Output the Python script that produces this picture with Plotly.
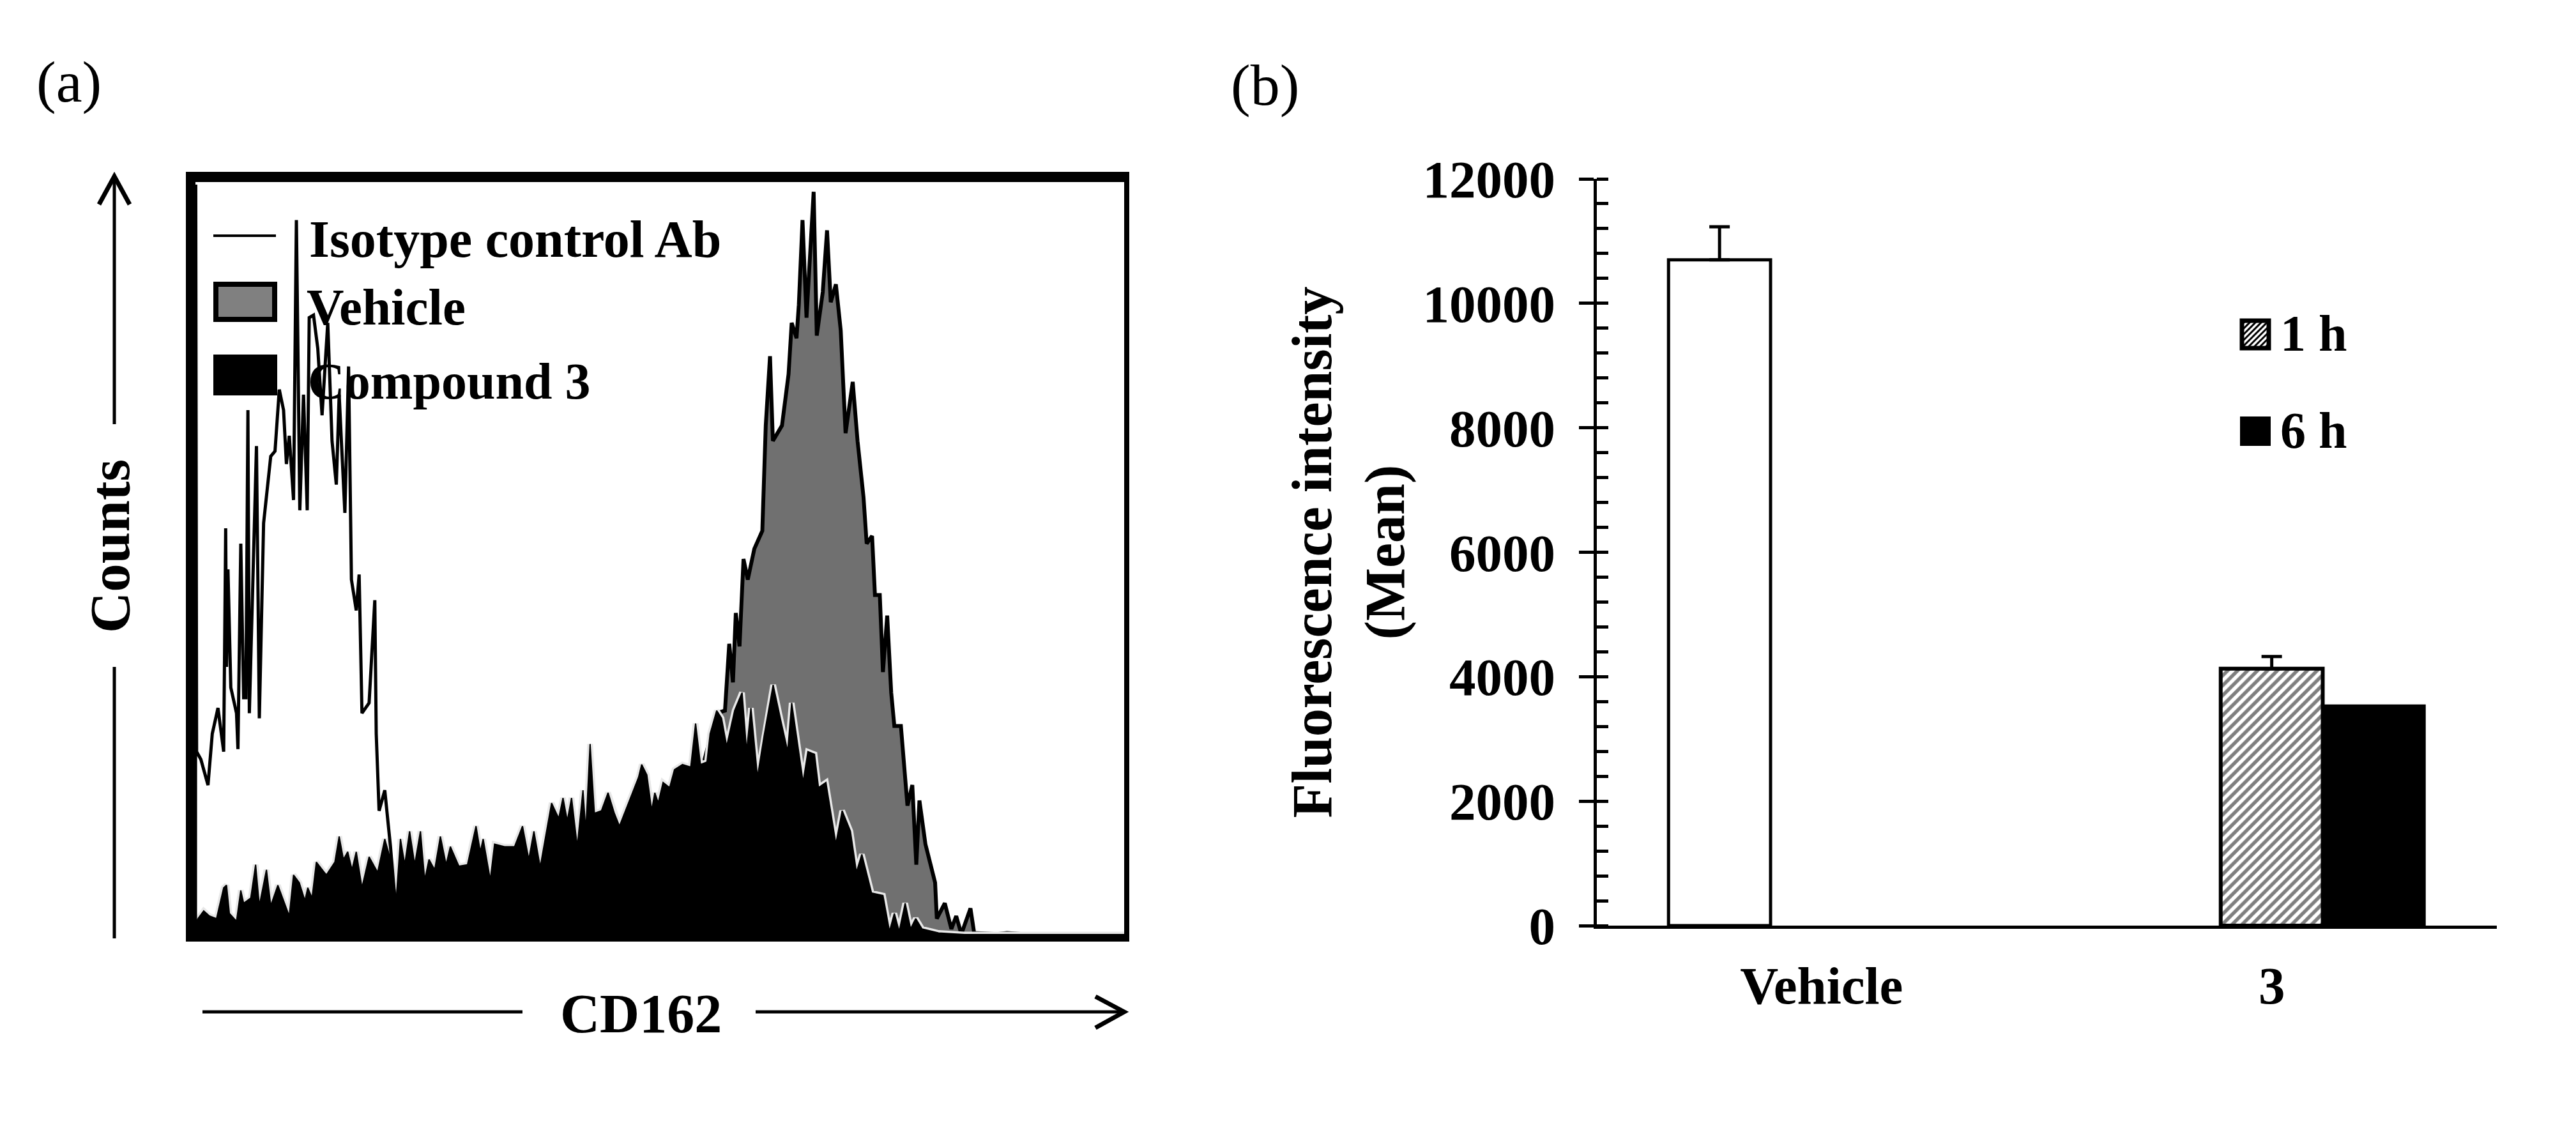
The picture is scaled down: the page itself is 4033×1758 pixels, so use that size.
import plotly.graph_objects as go

# ==========================================================
# Panel (a) data - histogram outlines, channel vs counts
# ==========================================================
isotype_x = [81, 82, 85, 100, 125, 140, 160, 180, 187, 190, 195, 205, 225, 230, 240, 250, 258, 265, 270, 285,
             295, 305, 320, 345, 360, 375, 390, 400, 410, 425, 435, 447, 460, 473, 480, 495, 510, 525, 545, 560,
             575, 585, 605, 618, 628, 645, 655, 665, 690, 710, 715, 725, 745, 765, 780, 790, 1200, 1500, 1700, 2000]
isotype_y = [0, 1460, 356, 341, 291, 391, 441, 356, 791, 521, 711, 481, 431, 361, 761, 461, 461, 1021, 431, 731,
             951, 421, 801, 931, 941, 1061, 1021, 916, 971, 846, 1391, 826, 1051, 826, 1201, 1206, 1141, 1011, 1191, 961,
             876, 1051, 821, 1106, 691, 631, 701, 431, 451, 651, 391, 241, 281, 171, 71, 40, 30, 15, 5, 0]

vehicle_x = [81, 1000, 1500, 1800, 1909, 1938, 1953, 1966, 1976, 1989, 2003, 2018, 2041, 2069, 2081, 2096, 2106, 2138,
             2161, 2172, 2189, 2197, 2210, 2224, 2249, 2260, 2281, 2296, 2309, 2327, 2344, 2361, 2386, 2403, 2424,
             2435, 2454, 2464, 2481, 2492, 2507, 2521, 2532, 2555, 2578, 2595, 2609, 2620, 2641, 2675, 2681, 2709,
             2732, 2749, 2767, 2799, 2812, 2892, 2927, 3007, 3235, 3338]
vehicle_y = [0, 50, 100, 200, 431, 436, 566, 491, 626, 561, 731, 691, 751, 786, 991, 1126, 961, 991,
             1091, 1191, 1161, 1226, 1391, 1201, 1446, 1166, 1251, 1371, 1231, 1266, 1176, 976, 1076, 961, 851,
             761, 776, 661, 661, 511, 621, 471, 406, 406, 251, 291, 136, 261, 176, 101, 31, 61,
             11, 36, 1, 51, 3, 1, 3, 0, 1, 1]

compound_x = [81, 90, 110, 130, 155, 180, 190, 200, 225, 240, 250, 275, 292, 305, 330, 345, 370, 390, 410, 425, 445,
              465, 475, 490, 505, 540, 570, 585, 600, 615, 630, 645, 665, 690, 720, 745, 770, 785, 800, 815, 832,
              850, 870, 885, 900, 920, 940, 960, 975, 1005, 1035, 1065, 1080, 1090, 1115, 1130, 1165, 1200, 1228,
              1250, 1268, 1290, 1330, 1355, 1370, 1385, 1400, 1420, 1440, 1450, 1465, 1480, 1505, 1528, 1550, 1568,
              1635, 1646, 1664, 1681, 1692, 1704, 1721, 1744, 1761, 1789, 1818, 1835, 1852, 1875, 1886, 1909, 1926,
              1944, 1972, 1998, 2014, 2029, 2052, 2075, 2107, 2132, 2158, 2172, 2195, 2212, 2229, 2252, 2266, 2292,
              2327, 2349, 2378, 2399, 2418, 2452, 2492, 2515, 2532, 2549, 2570, 2589, 2607, 2629, 2687, 2778, 3338]
compound_y = [21, 31, 46, 36, 31, 91, 96, 41, 26, 86, 61, 71, 136, 56, 126, 56, 96, 66, 36, 116, 101,
              66, 91, 71, 141, 116, 141, 191, 146, 161, 126, 161, 91, 151, 121, 186, 136, 66, 186, 136, 201,
              136, 201, 106, 146, 126, 191, 136, 171, 133, 136, 211, 161, 186, 106, 176, 171, 171, 211,
              146, 201, 131, 256, 226, 266, 221, 266, 171, 281, 201, 371, 236, 241, 276, 236, 211,
              306, 331, 311, 241, 276, 256, 296, 286, 321, 331, 326, 411, 331, 336, 391, 436, 421,
              366, 436, 471, 356, 441, 306, 386, 486, 421, 356, 451, 361, 296, 356, 351, 286, 296,
              176, 241, 201, 121, 156, 81, 76, 6, 41, 6, 61, 11, 31, 11, 3, 0, 0]

# ==========================================================
# Panel (b) data
# ==========================================================
categories = ["Vehicle", "3"]
vehicle_mean = [10700, None]
vehicle_err = [530, None]
h1_mean = [None, 4130]
h1_err = [None, 195]
h6_mean = [None, 3540]
y_ticks = [0, 2000, 4000, 6000, 8000, 10000, 12000]

W, H = 4033, 1758
FONT = "Liberation Serif"


def px(x):
    return x / W


def py(y):
    return 1 - y / H


def label(text, x, y, size, bold=True, angle=0, anchor="center"):
    return dict(text=text, x=px(x), y=py(y), xref="paper", yref="paper", showarrow=False,
                xanchor=anchor, yanchor="middle", textangle=angle,
                font=dict(family=FONT, size=size, color="black", weight="bold" if bold else "normal"))


def rect(x0, y0, x1, y1, fill="black", line=None, width=0):
    return dict(type="rect", xref="paper", yref="paper", x0=px(x0), x1=px(x1), y0=py(y0), y1=py(y1),
                fillcolor=fill, line=dict(color=line or fill, width=width))


def stroke(points, width):
    path = "M " + " L ".join(f"{px(a)} {py(b)}" for a, b in points)
    return dict(type="path", xref="paper", yref="paper", path=path, line=dict(color="black", width=width))


fig = go.Figure()

# ==========================================================
# Panel (a) traces
# ==========================================================
fig.add_trace(go.Scatter(x=vehicle_x, y=vehicle_y, mode="lines", fill="tozeroy", fillcolor="#707070",
                         line=dict(color="black", width=6), xaxis="x", yaxis="y"))
# light rim that sits between the black and grey areas
fig.add_trace(go.Scatter(x=compound_x, y=compound_y, mode="lines",
                         line=dict(color="#e8e8e8", width=9), xaxis="x", yaxis="y"))
fig.add_trace(go.Scatter(x=compound_x, y=compound_y, mode="lines", fill="tozeroy", fillcolor="black",
                         line=dict(color="black", width=2), xaxis="x", yaxis="y"))
fig.add_trace(go.Scatter(x=isotype_x, y=isotype_y, mode="lines",
                         line=dict(color="black", width=5), xaxis="x", yaxis="y"))

# ==========================================================
# Panel (b) traces
# ==========================================================
fig.add_trace(go.Bar(x=categories, y=vehicle_mean, name="Vehicle", marker=dict(color="white", line=dict(color="black", width=5)),
                     error_y=dict(type="data", array=vehicle_err, symmetric=False, color="black", thickness=5, width=16),
                     xaxis="x2", yaxis="y2"))
fig.add_trace(go.Bar(x=categories, y=h1_mean, name="1 h",
                     marker=dict(color="white", line=dict(color="black", width=6),
                                 pattern=dict(shape="/", fgcolor="black", bgcolor="white", size=11, solidity=0.5)),
                     error_y=dict(type="data", array=h1_err, symmetric=False, color="black", thickness=5, width=16),
                     xaxis="x2", yaxis="y2"))
fig.add_trace(go.Bar(x=categories, y=h6_mean, name="6 h", marker=dict(color="black", line=dict(color="black", width=3)),
                     xaxis="x2", yaxis="y2"))

# ==========================================================
# Frame, legends and arrows
# ==========================================================
shapes = [
    rect(291, 269, 306, 1474), rect(291, 269, 1768, 285),
    rect(291, 1463, 1768, 1474), rect(1760, 269, 1768, 1474),
    stroke([(334, 369), (432, 369)], 4),
    rect(338, 445, 430, 500, fill="#808080", line="black", width=8),
    rect(334, 555, 434, 619),
    stroke([(179, 664), (179, 276)], 5), stroke([(155, 320), (179, 276), (203, 320)], 7),
    stroke([(179, 1044), (179, 1469)], 5),
    stroke([(317, 1584), (818, 1584)], 5),
    stroke([(1183, 1584), (1760, 1584)], 5), stroke([(1715, 1560), (1760, 1584), (1715, 1609)], 7),
    rect(3510, 502, 3552, 545, fill="white", line="black", width=7),
    rect(3507, 652, 3555, 698),
]
# hatch inside the 1 h key
side = 42
for d in range(-side + 6, side, 9):
    if d >= 0:
        shapes.append(stroke([(3510 + d, 544), (3552, 544 - (side - d))], 3))
    else:
        shapes.append(stroke([(3510, 544 + d), (3510 + side + d, 502)], 3))

annotations = [
    label("(a)", 108, 128, 92, bold=False),
    label("(b)", 1980, 133, 92, bold=False),
    label("Isotype control Ab", 482, 375, 82, anchor="left"),
    label("Vehicle", 478, 481, 81, anchor="left"),
    label("Compound 3", 480, 597, 80, anchor="left"),
    label("CD162", 1003, 1587, 86),
    label("Counts", 172, 855, 89, angle=-90),
    label("1 h", 3622, 522, 80),
    label("6 h", 3622, 674, 80),
]

fig.update_layout(
    width=W,
    height=H,
    margin=dict(l=0, r=0, t=0, b=0, autoexpand=False),
    paper_bgcolor="white",
    plot_bgcolor="white",
    showlegend=False,
    barmode="group",
    bargap=0.32,
    bargroupgap=0,
    shapes=shapes,
    annotations=annotations,
    xaxis=dict(domain=[px(306), px(1760)], range=[81, 3338], visible=False),
    yaxis=dict(domain=[py(1463), py(285)], range=[0, 1465], visible=False),
    xaxis2=dict(domain=[px(2499.5), px(3909)], anchor="y2", type="category", range=[-0.5, 1.5],
                categoryorder="array", categoryarray=categories, showline=True, linecolor="black", linewidth=5,
                ticks="", tickfont=dict(family=FONT, size=83, color="black", weight="bold"), ticklabelstandoff=17),
    yaxis2=dict(domain=[py(1449), py(280)], anchor="x2", range=[0, 12000], tickvals=y_ticks, tickformat="d",
                showgrid=False, zeroline=False, showline=True, linecolor="black", linewidth=5,
                ticks="outside", ticklen=23, tickwidth=5, tickcolor="black",
                tickfont=dict(family=FONT, size=83, color="black", weight="bold"), ticklabelstandoff=20,
                minor=dict(ticks="inside", dtick=400, ticklen=18, tickwidth=5, tickcolor="black", showgrid=False),
                title=dict(text="Fluorescence intensity<br>(Mean)", standoff=1,
                           font=dict(family=FONT, size=88, color="black", weight="bold"))),
    # inner half of the major ticks
    yaxis3=dict(domain=[py(1449), py(280)], anchor="x2", overlaying="y2", range=[0, 12000], dtick=2000,
                showgrid=False, zeroline=False, ticks="inside", ticklen=18, tickwidth=5, tickcolor="black", showticklabels=False),
)

fig.write_html("out.html", config={"displayModeBar": False}, post_script="document.body.style.margin='0';")
